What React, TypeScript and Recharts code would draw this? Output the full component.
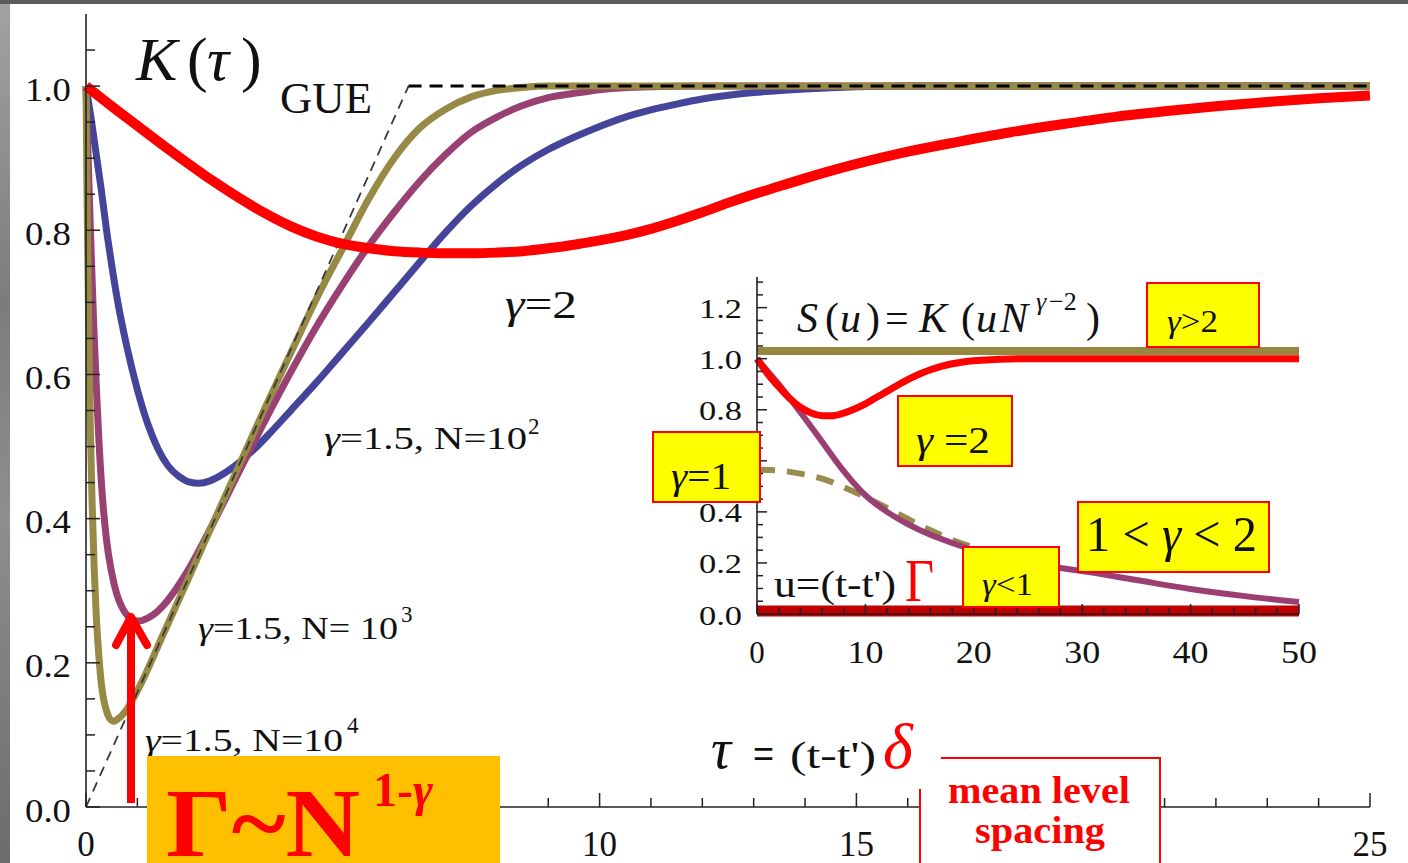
import React from 'react';
import { LineChart, Line, XAxis, YAxis } from 'recharts';

// ---------- Main panel: K(tau) ----------
const tauRed = [0,0.5,1,1.5,2,2.5,3,3.5,4,4.5,5,5.5,6,6.5,7,7.5,8,8.5,9,9.5,10,10.5,11,11.5,12,12.5,13,13.5,14,15,16,17,18,19,20,21,22,23,24,25];
const kRed = [1.0,0.972,0.945,0.918,0.892,0.867,0.844,0.823,0.805,0.791,0.781,0.775,0.771,0.769,0.768,0.768,0.769,0.771,0.775,0.780,0.786,0.793,0.802,0.813,0.825,0.838,0.85,0.861,0.872,0.892,0.909,0.923,0.936,0.947,0.957,0.965,0.972,0.978,0.983,0.987];

const tauBlue = [0,0.1,0.2,0.3,0.4,0.5,0.6,0.8,1.0,1.2,1.4,1.6,1.8,2.0,2.2,2.4,2.6,2.8,3.0,3.3,3.6,4,4.5,5,5.5,6,6.5,7,7.5,8,8.5,9,9.5,10,10.5,11,11.5,12,13,14,15,16,25];
const kBlue = [1.0,0.955,0.905,0.855,0.80,0.752,0.708,0.637,0.579,0.532,0.497,0.473,0.459,0.451,0.449,0.452,0.459,0.468,0.479,0.498,0.52,0.551,0.59,0.631,0.672,0.714,0.756,0.797,0.834,0.865,0.891,0.912,0.929,0.944,0.957,0.967,0.975,0.982,0.991,0.996,0.999,1.0,1.0];

const tauPurple = [0,0.05,0.1,0.15,0.2,0.3,0.4,0.5,0.6,0.7,0.8,0.9,1.0,1.1,1.3,1.5,1.7,2.0,2.5,3.0,3.5,4.0,4.5,5.0,5.5,6.0,6.5,7.0,7.5,8.0,8.5,9,9.5,10,11,12,25];
const kPurple = [1.0,0.88,0.77,0.67,0.585,0.45,0.37,0.325,0.295,0.277,0.266,0.26,0.258,0.259,0.266,0.279,0.297,0.33,0.397,0.468,0.538,0.605,0.668,0.725,0.778,0.825,0.868,0.905,0.936,0.957,0.973,0.984,0.99,0.995,0.999,1.0,1.0];

const tauOlive = [0,0.02,0.05,0.08,0.12,0.16,0.2,0.25,0.3,0.35,0.4,0.45,0.5,0.55,0.6,0.7,0.8,0.9,1.0,1.5,2,2.5,3,3.5,4,4.5,5,5.5,6,6.5,7,7.5,8,8.5,9,25];
const kOlive = [1.0,0.85,0.68,0.54,0.42,0.33,0.265,0.21,0.17,0.147,0.133,0.124,0.12,0.119,0.121,0.127,0.136,0.148,0.161,0.239,0.318,0.398,0.477,0.556,0.632,0.707,0.775,0.843,0.9,0.942,0.968,0.985,0.994,0.998,1.0,1.0];

// GUE: linear ramp then plateau
const tauGueRise = [0, 6.28];
const kGueRise = [0, 1];
const tauGueFlat = [6.28, 25];
const kGueFlat = [1, 1];

const mainXTicks = [0,1,2,3,4,5,6,7,8,9,10,11,12,13,14,15,16,17,18,19,20,21,22,23,24,25];
const mainXMajor = [0,5,10,15,20,25];
const mainXLabels = [0,10,15,25];
const mainYTicks = [0,0.05,0.1,0.15,0.2,0.25,0.3,0.35,0.4,0.45,0.5,0.55,0.6,0.65,0.7,0.75,0.8,0.85,0.9,0.95,1.0,1.05];
const mainYMajor = [0,0.2,0.4,0.6,0.8,1.0];
const mainYLabels = [0,0.2,0.4,0.6,0.8,1.0];

// ---------- Inset: S(u) ----------
const uRed = [0,1,2,3,4,5,6,7,8,9,10,11,12,13,14,15,16,17,18,19,20,22,24,50];
const sRed = [1.0,0.94,0.89,0.845,0.81,0.787,0.777,0.777,0.787,0.803,0.823,0.848,0.872,0.897,0.92,0.94,0.957,0.97,0.98,0.987,0.992,0.997,1.0,1.0];

const uPurple = [0,2,4,6,8,10,12,14,16,18,20,22,24,26,28,30,35,40,45,50];
const sPurple = [1.0,0.9,0.79,0.675,0.56,0.465,0.40,0.35,0.31,0.278,0.25,0.228,0.208,0.193,0.18,0.168,0.133,0.098,0.07,0.047];

const uDashed = [0,2,4,6,8,10,12,14,16,18,20,22,24];
const sDashed = [0.565,0.562,0.55,0.53,0.497,0.458,0.415,0.37,0.328,0.29,0.26,0.235,0.215];

const uFlat = [0, 50];
const sAbove2 = [1.03, 1.03];
const sBelow1 = [0.012, 0.012];

const insetXTicks = [0,2,4,6,8,10,12,14,16,18,20,22,24,26,28,30,32,34,36,38,40,42,44,46,48,50];
const insetXMajor = [0,10,20,30,40,50];
const insetXLabels = [0,10,20,30,40,50];
const insetYTicks = [0,0.05,0.1,0.15,0.2,0.25,0.3,0.35,0.4,0.45,0.5,0.55,0.6,0.65,0.7,0.75,0.8,0.85,0.9,0.95,1.0,1.05,1.1,1.15,1.2,1.25,1.3];
const insetYMajor = [0,0.2,0.4,0.6,0.8,1.0,1.2];
const insetYLabels = [0,0.2,0.4,0.8,1.0,1.2];

const pairs = (xs: number[], ys: number[]) => xs.map((x, i) => ({ x, y: ys[i] }));

const redData = pairs(tauRed, kRed);
const blueData = pairs(tauBlue, kBlue);
const purpleData = pairs(tauPurple, kPurple);
const oliveData = pairs(tauOlive, kOlive);
const gueRiseData = pairs(tauGueRise, kGueRise);
const gueFlatData = pairs(tauGueFlat, kGueFlat);

const insRedData = pairs(uRed, sRed);
const insPurpleData = pairs(uPurple, sPurple);
const insDashedData = pairs(uDashed, sDashed);
const insAboveData = pairs(uFlat, sAbove2);
const insBelowData = pairs(uFlat, sBelow1);

const SERIF = '"Liberation Serif", "Times New Roman", serif';
const INK = '#111';
const AXIS = '#222';

type Side = 'bottom' | 'top' | 'left' | 'right';
type LabelCfg = { values: number[]; size: number; offset: number; fmt: (v: number) => string; len?: (s: string) => number | undefined; dy?: number };

const near = (list: number[], v: number) => list.some((m) => Math.abs(m - v) < 1e-6);

function axisTick(side: Side, majors: number[], majorLen: number, minorLen: number, label?: LabelCfg) {
  return (props: any) => {
    const { x, y, payload } = props;
    const v = payload.value as number;
    const len = near(majors, v) ? majorLen : minorLen;
    let x2 = x;
    let y2 = y;
    if (side === 'bottom') y2 = y - len;
    if (side === 'top') y2 = y + len;
    if (side === 'left') x2 = x + len;
    if (side === 'right') x2 = x - len;
    let text: React.ReactNode = null;
    if (label && near(label.values, v)) {
      const s = label.fmt(v);
      const tl = label.len ? label.len(s) : undefined;
      const common: any = { fontFamily: SERIF, fontSize: label.size, fill: INK };
      if (tl) {
        common.textLength = tl;
        common.lengthAdjust = 'spacingAndGlyphs';
      }
      if (side === 'bottom') {
        text = (
          <text x={x} y={y + label.offset} textAnchor="middle" {...common}>
            {s}
          </text>
        );
      } else if (side === 'left') {
        text = (
          <text x={x - label.offset} y={y + (label.dy || 0)} textAnchor="end" dominantBaseline="central" {...common}>
            {s}
          </text>
        );
      }
    }
    return (
      <g>
        <line x1={x} y1={y} x2={x2} y2={y2} stroke={AXIS} strokeWidth={1.5} />
        {text}
      </g>
    );
  };
}

const axisLineStyle = { stroke: AXIS, strokeWidth: 1.6 };

function MainChart() {
  return (
    <div style={{ position: 'absolute', left: 0, top: 0 }}>
      <LineChart width={1408} height={863} margin={{ top: 14, right: 38, bottom: 0, left: 0 }}>
        <XAxis
          xAxisId="b"
          orientation="bottom"
          type="number"
          dataKey="x"
          domain={[0, 25]}
          ticks={mainXTicks}
          interval={0}
          height={56}
          tickSize={0}
          tickMargin={0}
          tickLine={false}
          axisLine={axisLineStyle}
          tick={axisTick('bottom', mainXMajor, 14, 9, { values: mainXLabels, size: 35, offset: 49, fmt: (v) => String(v) })}
        />
        <XAxis
          xAxisId="t"
          orientation="top"
          type="number"
          dataKey="x"
          domain={[0, 25]}
          ticks={mainXTicks}
          interval={0}
          height={0}
          tickSize={0}
          tickMargin={0}
          tickLine={false}
          axisLine={axisLineStyle}
          tick={axisTick('top', mainXMajor, 14, 9)}
        />
        <YAxis
          yAxisId="l"
          orientation="left"
          type="number"
          domain={[0, 1.1]}
          ticks={mainYTicks}
          interval={0}
          width={86}
          tickSize={0}
          tickMargin={0}
          tickLine={false}
          axisLine={axisLineStyle}
          tick={axisTick('left', mainYMajor, 14, 9, { values: mainYLabels, size: 34, offset: 15, dy: 3, fmt: (v) => v.toFixed(1), len: () => 46 })}
        />
        <YAxis
          yAxisId="r"
          orientation="right"
          type="number"
          domain={[0, 1.1]}
          ticks={mainYTicks}
          interval={0}
          width={0}
          tickSize={0}
          tickMargin={0}
          tickLine={false}
          axisLine={axisLineStyle}
          tick={axisTick('right', mainYMajor, 14, 9)}
        />
        <Line xAxisId="b" yAxisId="l" data={blueData} dataKey="y" type="monotone" stroke="#45449b" strokeWidth={7} dot={false} isAnimationActive={false} />
        <Line xAxisId="b" yAxisId="l" data={purpleData} dataKey="y" type="monotone" stroke="#9a4173" strokeWidth={7} dot={false} isAnimationActive={false} />
        <Line xAxisId="b" yAxisId="l" data={oliveData} dataKey="y" type="monotone" stroke="#978a45" strokeWidth={7} dot={false} isAnimationActive={false} />
        <Line xAxisId="b" yAxisId="l" data={gueRiseData} dataKey="y" type="linear" stroke="#3a3a3a" strokeWidth={1.8} strokeDasharray="10 7" dot={false} isAnimationActive={false} />
        <Line xAxisId="b" yAxisId="l" data={gueFlatData} dataKey="y" type="linear" stroke="#000000" strokeWidth={3} strokeDasharray="13 8" dot={false} isAnimationActive={false} />
        <Line xAxisId="b" yAxisId="l" data={redData} dataKey="y" type="monotone" stroke="#ff0000" strokeWidth={10} dot={false} isAnimationActive={false} />
      </LineChart>
    </div>
  );
}

function InsetChart() {
  return (
    <div style={{ position: 'absolute', left: 690, top: 267 }}>
      <LineChart width={650} height={405} margin={{ top: 10, right: 41, bottom: 0, left: 0 }}>
        <XAxis
          xAxisId="b"
          orientation="bottom"
          type="number"
          dataKey="x"
          domain={[0, 50]}
          ticks={insetXTicks}
          interval={0}
          height={58}
          tickSize={0}
          tickMargin={0}
          tickLine={false}
          axisLine={axisLineStyle}
          tick={axisTick('bottom', insetXMajor, 10, 6, { values: insetXLabels, size: 31, offset: 49, fmt: (v) => String(v), len: (s) => (s.length > 1 ? 36 : undefined) })}
        />
        <XAxis
          xAxisId="t"
          orientation="top"
          type="number"
          dataKey="x"
          domain={[0, 50]}
          ticks={insetXTicks}
          interval={0}
          height={0}
          tickSize={0}
          tickMargin={0}
          tickLine={false}
          axisLine={axisLineStyle}
          tick={axisTick('top', insetXMajor, 10, 6)}
        />
        <YAxis
          yAxisId="l"
          orientation="left"
          type="number"
          domain={[0, 1.32]}
          ticks={insetYTicks}
          interval={0}
          width={67}
          tickSize={0}
          tickMargin={0}
          tickLine={false}
          axisLine={axisLineStyle}
          tick={axisTick('left', insetYMajor, 10, 6, { values: insetYLabels, size: 28, offset: 15, dy: 1, fmt: (v) => v.toFixed(1), len: () => 43 })}
        />
        <YAxis
          yAxisId="r"
          orientation="right"
          type="number"
          domain={[0, 1.32]}
          ticks={insetYTicks}
          interval={0}
          width={0}
          tickSize={0}
          tickMargin={0}
          tickLine={false}
          axisLine={axisLineStyle}
          tick={axisTick('right', insetYMajor, 10, 6)}
        />
        <Line xAxisId="b" yAxisId="l" data={insDashedData} dataKey="y" type="monotone" stroke="#9a8a4e" strokeWidth={6} strokeDasharray="18 12" dot={false} isAnimationActive={false} />
        <Line xAxisId="b" yAxisId="l" data={insPurpleData} dataKey="y" type="monotone" stroke="#9b3f73" strokeWidth={6} dot={false} isAnimationActive={false} />
        <Line xAxisId="b" yAxisId="l" data={insRedData} dataKey="y" type="monotone" stroke="#ff0000" strokeWidth={7} dot={false} isAnimationActive={false} />
        <Line xAxisId="b" yAxisId="l" data={insAboveData} dataKey="y" type="linear" stroke="#98863f" strokeWidth={8} dot={false} isAnimationActive={false} />
        <Line xAxisId="b" yAxisId="l" data={insBelowData} dataKey="y" type="linear" stroke="#c00000" strokeWidth={11} dot={false} isAnimationActive={false} />
      </LineChart>
    </div>
  );
}

const YELLOW = '#ffff00';
const RED = '#ff0000';

function Overlay() {
  const t = { fontFamily: SERIF, fill: INK } as any;
  return (
    <svg width={1408} height={863} style={{ position: 'absolute', left: 0, top: 0, pointerEvents: 'none' }}>
      {/* K(tau) */}
      <text {...t} fontSize={62} y={80}>
        <tspan x={136} fontStyle="italic">K</tspan>
        <tspan x={187}>(</tspan>
        <tspan x={207} fontStyle="italic">τ</tspan>
        <tspan x={241}>)</tspan>
      </text>
      <text {...t} fontSize={45} x={280} y={113} textLength={92} lengthAdjust="spacingAndGlyphs">GUE</text>
      <text {...t} fontSize={40} x={505} y={318} textLength={72} lengthAdjust="spacingAndGlyphs">
        <tspan fontStyle="italic">γ</tspan>=2
      </text>

      {/* curve labels */}
      <text {...t} fontSize={32} x={324} y={449} textLength={203} lengthAdjust="spacingAndGlyphs">
        <tspan fontStyle="italic">γ</tspan>=1.5,  N=10
      </text>
      <text {...t} fontSize={23} x={528} y={434}>2</text>
      <text {...t} fontSize={32} x={198} y={639} textLength={200} lengthAdjust="spacingAndGlyphs">
        <tspan fontStyle="italic">γ</tspan>=1.5, N= 10
      </text>
      <text {...t} fontSize={23} x={401} y={622}>3</text>
      <text {...t} fontSize={32} x={145} y={751} textLength={198} lengthAdjust="spacingAndGlyphs">
        <tspan fontStyle="italic">γ</tspan>=1.5,  N=10
      </text>
      <text {...t} fontSize={23} x={347} y={733}>4</text>

      {/* Gamma ~ N^(1-gamma) box */}
      <rect x={147} y={756} width={353} height={107} fill="#ffc000" />
      <text fontFamily={SERIF} fontWeight="bold" fill={RED} fontSize={98} x={166} y={856} textLength={194} lengthAdjust="spacingAndGlyphs">Γ~N</text>
      <text fontFamily={SERIF} fontWeight="bold" fill={RED} fontSize={48} x={373} y={806} textLength={60} lengthAdjust="spacingAndGlyphs">
        1-<tspan fontStyle="italic">γ</tspan>
      </text>

      {/* red arrow */}
      <line x1={131} y1={803} x2={131} y2={620} stroke={RED} strokeWidth={8} />
      <polyline points="116,645 131,617 147,645" fill="none" stroke={RED} strokeWidth={8} strokeLinecap="round" strokeLinejoin="round" />

      {/* tau = (t-t') delta */}
      <rect x={920} y={758} width={240} height={105} fill="#ffffff" />
      <text {...t} fontSize={56} x={711} y={768} fontStyle="italic">τ</text>
      <text fontFamily='"Liberation Sans", Arial, sans-serif' fill={INK} fontSize={36} x={753} y={766}>=</text>
      <text {...t} fontSize={38} x={790} y={768} textLength={86} lengthAdjust="spacingAndGlyphs">(t-t')</text>
      <text fontFamily={SERIF} fill={RED} fontSize={64} x={883} y={768} fontStyle="italic">δ</text>

      {/* mean level spacing */}
      <polyline points="941,758 1160,758 1160,863" fill="none" stroke={RED} strokeWidth={2} />
      <line x1={920} y1={789} x2={920} y2={863} stroke={RED} strokeWidth={2} />
      <text fontFamily={SERIF} fontWeight="bold" fill={RED} fontSize={38} x={1039} y={803} textAnchor="middle" textLength={182} lengthAdjust="spacingAndGlyphs">mean level</text>
      <text fontFamily={SERIF} fontWeight="bold" fill={RED} fontSize={38} x={1040} y={843} textAnchor="middle" textLength={130} lengthAdjust="spacingAndGlyphs">spacing</text>

      {/* inset formula */}
      <text {...t} fontSize={42} y={332}>
        <tspan x={797} fontStyle="italic">S</tspan>
        <tspan x={825}>(</tspan>
        <tspan x={840} fontStyle="italic">u</tspan>
        <tspan x={866}>)</tspan>
        <tspan x={885}>=</tspan>
        <tspan x={919} fontStyle="italic">K</tspan>
        <tspan x={961}>(</tspan>
        <tspan x={976} fontStyle="italic">u</tspan>
        <tspan x={1000} fontStyle="italic">N</tspan>
        <tspan x={1036} y={310} fontSize={26} fontStyle="italic">γ</tspan>
        <tspan x={1049} y={310} fontSize={26}>−2</tspan>
        <tspan x={1086} y={332}>)</tspan>
      </text>

      {/* inset labels */}
      <rect x={1147} y={283} width={112} height={64} fill={YELLOW} stroke={RED} strokeWidth={2} />
      <text {...t} fontSize={32} x={1167} y={332} textLength={51} lengthAdjust="spacingAndGlyphs">
        <tspan fontStyle="italic">γ</tspan>&gt;2
      </text>

      <rect x={898} y={396} width={114} height={70} fill={YELLOW} stroke={RED} strokeWidth={2} />
      <text {...t} fontSize={38} x={916} y={453} textLength={74} lengthAdjust="spacingAndGlyphs">
        <tspan fontStyle="italic">γ</tspan> =2
      </text>

      <rect x={653} y={432} width={107} height={70} fill={YELLOW} stroke={RED} strokeWidth={2} />
      <text {...t} fontSize={38} x={671} y={489} textLength={60} lengthAdjust="spacingAndGlyphs">
        <tspan fontStyle="italic">γ</tspan>=1
      </text>

      <rect x={1078} y={502} width={191} height={70} fill={YELLOW} stroke={RED} strokeWidth={2} />
      <text {...t} fontSize={50} x={1086} y={551} textLength={171} lengthAdjust="spacingAndGlyphs">
        1 &lt; <tspan fontStyle="italic">γ</tspan> &lt; 2
      </text>

      <rect x={963} y={547} width={96} height={60} fill={YELLOW} stroke={RED} strokeWidth={2} />
      <text {...t} fontSize={32} x={982} y={595} textLength={51} lengthAdjust="spacingAndGlyphs">
        <tspan fontStyle="italic">γ</tspan>&lt;1
      </text>

      <text {...t} fontSize={37} x={774} y={597} textLength={122} lengthAdjust="spacingAndGlyphs">u=(t-t')</text>
      <text fontFamily={SERIF} fill={RED} fontSize={62} x={905} y={601} textLength={29} lengthAdjust="spacingAndGlyphs">Γ</text>
    </svg>
  );
}

export default function App() {
  return (
    <div
      style={{
        position: 'absolute',
        left: 0,
        top: 0,
        width: 1408,
        height: 863,
        overflow: 'hidden',
        background: 'linear-gradient(180deg, #a2a2a2 0%, #7c7c7c 35%, #8e8e8e 60%, #6c6c6c 100%)',
      }}
    >
      <div style={{ position: 'absolute', left: 0, top: 0, width: 1408, height: 4, background: '#5c5c5c' }} />
      <div style={{ position: 'absolute', left: 10, top: 4, width: 1398, height: 859, background: '#ffffff' }} />
      <MainChart />
      <InsetChart />
      <Overlay />
    </div>
  );
}
